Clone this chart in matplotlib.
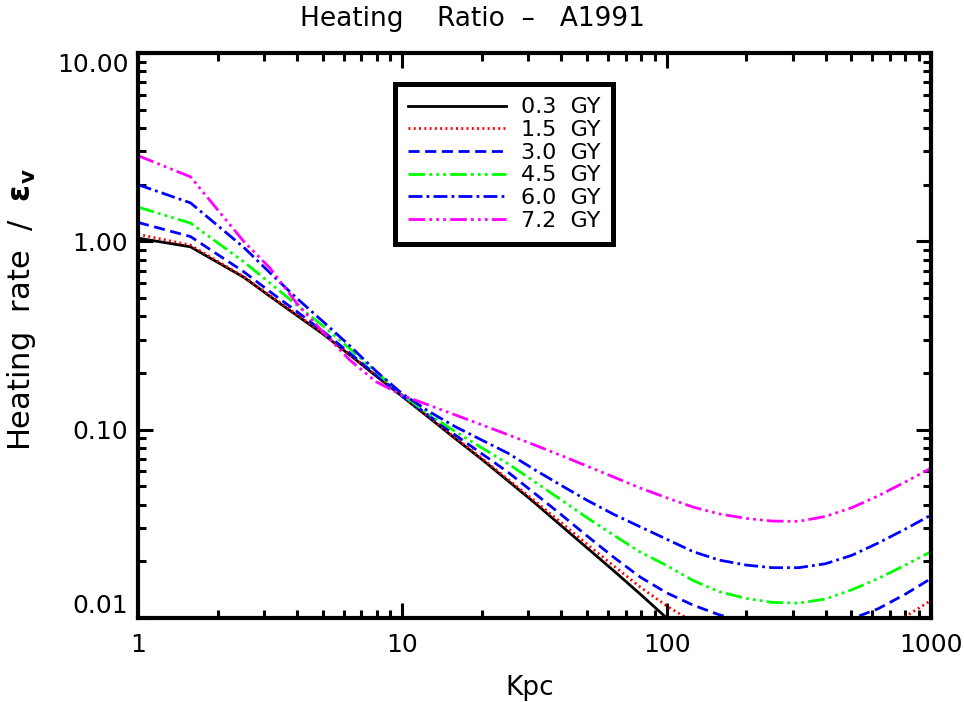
import matplotlib
matplotlib.use("Agg")
import matplotlib.pyplot as plt
from matplotlib.ticker import FixedLocator, FixedFormatter, NullFormatter, LogLocator

# radius in Kpc
kpc = [1.0, 1.58, 2.51, 3.16, 3.98, 5.01, 6.31, 7.94, 10.0, 12.6, 15.8, 20.0,
       25.1, 31.6, 39.8, 50.1, 63.1, 79.4, 100, 126, 158, 200, 251, 316, 398,
       501, 631, 794, 1000]

# heating rate / eps_v for each age
gy_03 = [1.04, 0.935, 0.645, 0.51, 0.405, 0.322, 0.25, 0.193, 0.150, 0.116,
         0.090, 0.0695, 0.0535, 0.041, 0.031, 0.0235, 0.0178, 0.0134, 0.0100,
         0.0076, 0.0060, 0.0050, 0.0044, 0.0041, 0.0041, 0.0043, 0.0048,
         0.0055, 0.0065]
gy_15 = [1.09, 0.955, 0.65, 0.515, 0.41, 0.325, 0.252, 0.195, 0.151, 0.117,
         0.091, 0.0705, 0.0545, 0.042, 0.0322, 0.0246, 0.0189, 0.0146, 0.0116,
         0.0095, 0.0083, 0.0076, 0.0072, 0.0071, 0.0073, 0.0078, 0.0087,
         0.0101, 0.0124]
gy_30 = [1.26, 1.06, 0.69, 0.54, 0.425, 0.333, 0.256, 0.196, 0.151, 0.119,
         0.094, 0.0745, 0.0595, 0.046, 0.0355, 0.0272, 0.0210, 0.0165, 0.0136,
         0.0117, 0.0104, 0.0095, 0.0089, 0.0087, 0.0090, 0.0099, 0.0112,
         0.0133, 0.0162]
gy_45 = [1.52, 1.25, 0.78, 0.60, 0.46, 0.355, 0.27, 0.203, 0.153, 0.121,
         0.098, 0.080, 0.066, 0.053, 0.0425, 0.034, 0.0275, 0.0224, 0.0190,
         0.0158, 0.0138, 0.0127, 0.0121, 0.0120, 0.0126, 0.0141, 0.0162,
         0.0190, 0.0225]
gy_60 = [2.0, 1.60, 0.93, 0.68, 0.50, 0.375, 0.28, 0.205, 0.155, 0.125,
         0.104, 0.088, 0.075, 0.0614, 0.0507, 0.0421, 0.0355, 0.0305, 0.0262,
         0.0225, 0.0203, 0.0191, 0.0185, 0.0185, 0.0194, 0.0215, 0.0250,
         0.0295, 0.0352]
gy_72 = [2.85, 2.2, 1.0, 0.72, 0.47, 0.33, 0.235, 0.18, 0.152, 0.135,
         0.120, 0.106, 0.094, 0.083, 0.073, 0.064, 0.056, 0.049, 0.0435,
         0.0388, 0.0357, 0.0338, 0.0327, 0.0326, 0.0346, 0.0385, 0.0445,
         0.0525, 0.0625]

ages = ["0.3  GY", "1.5  GY", "3.0  GY", "4.5  GY", "6.0  GY", "7.2  GY"]
series = [gy_03, gy_15, gy_30, gy_45, gy_60, gy_72]
colors = ["black", "#ff0000", "#0000ff", "#00ff00", "#0000ff", "#ff00ff"]
styles = ["-", (0, (0.7, 1.2)), (0, (4, 2)),
          (0, (6, 1.5, 1, 1.5, 1, 1.5, 1, 1.5)),
          (0, (5, 1.5, 1, 1.5)),
          (0, (6, 1.5, 1, 1.5, 1, 1.5, 1, 1.5))]

x_ticks = [1, 10, 100, 1000]
x_labels = ["1", "10", "100", "1000"]
y_ticks = [0.01, 0.1, 1, 10]
y_labels = ["0.01", "0.10", "1.00", "10.00"]

plt.rcParams['font.family'] = ['DejaVu Sans']

W, H = 964, 702
fig = plt.figure(figsize=(W / 100, H / 100), dpi=100)
ax = fig.add_axes([138 / W, 1 - 618 / H, (931 - 138) / W, (618 - 53) / H])

for vals, c, ls, lab in zip(series, colors, styles, ages):
    ax.plot(kpc, vals, color=c, linestyle=ls, linewidth=2, label=lab)

ax.set_xscale('log')
ax.set_yscale('log')
ax.set_xlim(1, 1000)
ax.set_ylim(0.01, 10)

ax.xaxis.set_major_locator(FixedLocator(x_ticks))
ax.xaxis.set_major_formatter(FixedFormatter(x_labels))
ax.yaxis.set_major_locator(FixedLocator(y_ticks))
ax.yaxis.set_major_formatter(FixedFormatter(y_labels))
for axis in (ax.xaxis, ax.yaxis):
    axis.set_minor_locator(LogLocator(base=10, subs=range(2, 10), numticks=20))
    axis.set_minor_formatter(NullFormatter())

ax.tick_params(which='both', direction='in', top=True, right=True, width=2.2,
               labelsize=18)
ax.tick_params(which='major', length=11)
ax.tick_params(which='minor', length=6)
ax.tick_params(axis='x', pad=11)
ax.tick_params(axis='y', pad=7)
for sp in ax.spines.values():
    sp.set_linewidth(3)

ylabs = ax.get_yticklabels()
ylabs[0].set_va('bottom')
ylabs[-1].set_va('top')

fig.text(0.49, 1 - 19 / H, "Heating    Ratio  \u2013   A1991", ha='center',
         va='center', fontsize=19, family=['Liberation Sans Narrow', 'DejaVu Sans'])
fig.text(530 / W, 1 - 688 / H, "Kpc", ha='center', va='center', fontsize=19)
fig.text(22 / W, 1 - 310 / H, r"Heating  rate  /  $\mathbf{\epsilon_v}$",
         rotation=90, ha='center', va='center', fontsize=22)

leg = ax.legend(loc='upper left', bbox_to_anchor=(395 / W, 1 - 84 / H),
                bbox_transform=fig.transFigure, borderaxespad=0, fontsize=16,
                handlelength=4.4, handletextpad=0.65, labelspacing=0.12,
                borderpad=0.6, fancybox=False, framealpha=1, edgecolor='black')
leg.get_frame().set_linewidth(3.6)

fig.savefig("out.png", dpi=100)
